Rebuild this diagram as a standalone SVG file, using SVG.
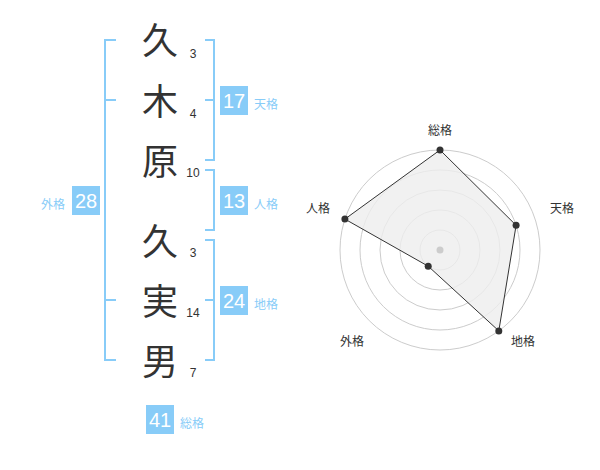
<svg xmlns="http://www.w3.org/2000/svg" width="600" height="470" viewBox="0 0 600 470">
<style>
.k{font-family:"Noto Sans CJK JP","Noto Sans CJK SC",sans-serif;font-size:36px;fill:#333;text-anchor:middle}
.n{font-family:"Liberation Sans",Arial,sans-serif;font-size:12px;fill:#333;text-anchor:middle}
.bx{fill:#88ccf8}
.bt{font-family:"Liberation Sans",Arial,sans-serif;font-size:20px;fill:#fff;text-anchor:middle}
.lb{font-family:"Noto Sans CJK JP",sans-serif;font-size:12px;fill:#88ccf8}
.br{fill:none;stroke:#88ccf8;stroke-width:2}
.rl{font-family:"Noto Sans CJK JP",sans-serif;font-size:12px;fill:#333;text-anchor:middle}
.ring{fill:none;stroke:#cccccc;stroke-width:1}
.pt{fill:#333}
</style>
<rect width="600" height="470" fill="#fff"/>
<g id="name">
<text class="k" x="160" y="54">久</text>
<text class="k" x="160" y="115">木</text>
<text class="k" x="160" y="175">原</text>
<text class="k" x="160" y="255">久</text>
<text class="k" x="160" y="315">実</text>
<text class="k" x="160" y="375">男</text>
<text class="n" x="193" y="58">3</text>
<text class="n" x="193" y="118">4</text>
<text class="n" x="193" y="177">10</text>
<text class="n" x="193" y="257">3</text>
<text class="n" x="193" y="317">14</text>
<text class="n" x="193" y="377">7</text>
</g>
<g id="connectors">
<path class="br" d="M116,40 H105 V360 H116 M105,100 H116 M105,300 H116"/>
<path class="br" d="M205,40 H214 V160 H205 M205,100 H214"/>
<path class="br" d="M205,170 H214 V230 H205"/>
<path class="br" d="M205,240 H214 V360 H205 M205,300 H214"/>
</g>
<g id="tenkaku">
<rect class="bx" x="220" y="86" width="28" height="29"/>
<text class="bt" x="234" y="107.5">17</text>
<text class="lb" x="254" y="108.5">天格</text>
</g>
<g id="jinkaku">
<rect class="bx" x="220" y="186" width="28" height="29"/>
<text class="bt" x="234" y="207.5">13</text>
<text class="lb" x="254" y="208.5">人格</text>
</g>
<g id="chikaku">
<rect class="bx" x="220" y="286" width="28" height="29"/>
<text class="bt" x="234" y="307.5">24</text>
<text class="lb" x="254" y="308.5">地格</text>
</g>
<g id="gaikaku">
<rect class="bx" x="72" y="186" width="28" height="29"/>
<text class="bt" x="86" y="207.5">28</text>
<text class="lb" x="65" y="208.5" text-anchor="end">外格</text>
</g>
<g id="soukaku">
<rect class="bx" x="146" y="405" width="28" height="29"/>
<text class="bt" x="160" y="426.5">41</text>
<text class="lb" x="180" y="427.5">総格</text>
</g>
<g id="radar">
<circle class="ring" cx="440" cy="250" r="100"/>
<circle class="ring" cx="440" cy="250" r="80"/>
<circle class="ring" cx="440" cy="250" r="60"/>
<circle class="ring" cx="440" cy="250" r="40"/>
<circle class="ring" cx="440" cy="250" r="20"/>
<polygon points="440,150 516.1,225.3 498.8,330.9 428.2,266.2 344.9,219.1" fill="#eeeeee" fill-opacity="0.8" stroke="#333" stroke-width="1"/>
<circle cx="440" cy="250" r="3.5" fill="#cccccc"/>
<circle class="pt" cx="440" cy="150" r="3.5"/>
<circle class="pt" cx="516.1" cy="225.3" r="3.5"/>
<circle class="pt" cx="498.8" cy="330.9" r="3.5"/>
<circle class="pt" cx="428.2" cy="266.2" r="3.5"/>
<circle class="pt" cx="344.9" cy="219.1" r="3.5"/>
<text class="rl" x="440" y="134.5">総格</text>
<text class="rl" x="562" y="213">天格</text>
<text class="rl" x="523" y="346">地格</text>
<text class="rl" x="352" y="346">外格</text>
<text class="rl" x="318" y="212.5">人格</text>
</g>
</svg>
